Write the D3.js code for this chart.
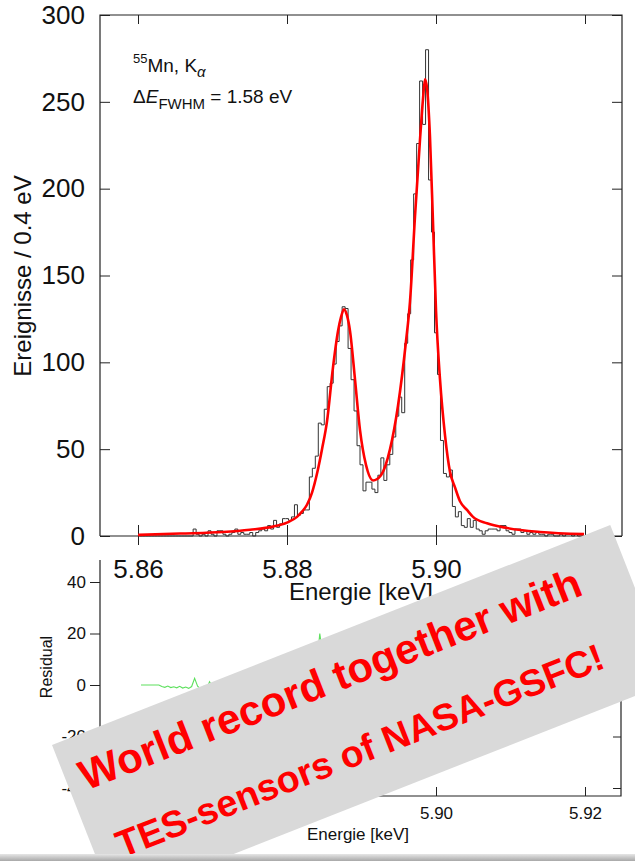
<!DOCTYPE html>
<html><head><meta charset="utf-8">
<script src="https://cdn.jsdelivr.net/npm/d3@7"></script>
<style>
body{margin:0;background:#fff;}
svg{display:block;}
text{font-family:"Liberation Sans",Arial,Helvetica,sans-serif;fill:#111;}
</style>
</head><body>
<svg id="c" width="635" height="861"></svg>
<script>
// ---------- data ----------
const binStart = 5.8602;   // keV, lower edge of first bin
const binWidth = 0.0004;   // keV (0.4 eV)
const counts = [
 0,0,0,0,0,0,0,0,0,0,0,0,0,0,0,0,0,0,
 4,1,0,1,0,3,1,0,3,3,1,0,1,2,4,1,2,1,1,2,0,2,3,4,3,6,4,9,5,7,10,10,9,11,18,12,13,15,15,
 34,39,46,65,64,73,86,88,99,112,121,132,131,108,90,72,52,41,26,31,31,27,25,35,45,32,41,47,57,69,80,71,
 111,128,159,197,226,262,237,280,205,175,117,93,55,36,34,38,17,11,14,6,5,10,5,9,4,3,1,3,4,4,4,3,6,6,
 3,2,1,4,4,2,3,1,2,1,2,1,1,0,1,1,0,0,1,0,1,1,0,1,0,0
];
const fitEnergy = [5.8600,5.86564,5.87141,5.87503,5.87812,5.88000,5.88134,5.88201,5.88268,5.88336,5.88403,5.88470,5.88537,5.88617,5.88685,5.88725,5.88765,5.88805,5.88846,5.88913,5.88980,5.89060,5.89154,5.89262,5.89383,5.89490,5.89597,5.89651,5.89718,5.89785,5.89826,5.89852,5.89879,5.89919,5.89960,5.90000,5.90054,5.90121,5.90188,5.90255,5.90322,5.90416,5.90497,5.90685,5.90953,5.91396,5.91987];
const fitCounts = [0.6,1.4,2.3,3.6,5.4,7.7,11,14,18,25,36,50,66,97,118,126,130.5,127,118,90,61,41,32,35,50,75,112,135,184,228,252,263,258,230,180,130,90,58,37,28,20,15,11,7.3,4.6,2.3,1.1];
const residual = [
 0,0,0,0,0,0,0,-0.6,-0.9,-0.4,-1.0,-0.7,-1.1,-0.5,-1.2,-0.8,-1.3,-0.6,
 2.6,-0.5,-1.5,-0.6,-1.6,1.3,-0.7,-1.8,1,1,-1,-2,-1.3,-0.4,1.5,-1.6,-0.8,-1.9,-2,-1.2,-3.4,-1.6,-0.8,0,-1.4,1.2,-1.2,3.4,-1.1,0.3,2.7,1.9,0,1,6.5,-1,-2,-2,-5,
 9,8,8,20,12,11,12,1,-1,-1,-2,2,3,-9,-10,-8,-10,-8,-14,-4,-1,-5,-8,0,5,-12,-8,-8,-5,-3,-4,-20,
 -7,-12,-9,-3,-2,12,-25,22,-23,-5,-8,5,-7,-9,-2,9,-7,-9,-4,-10,-9,-3,-7,-2,-6,-6,-7.5,-5,-3.5,-3,-2.5,-3,0.5,1,
 -1.8,-2.5,-3.2,0,0.2,-1.6,-0.4,-2.2,-1,-1.9,-0.7,-1.6,-1.4,-2.3,-1.2,-1.1,-2,-1.9,-0.8,-1.7,-0.6,-0.5,-1.4,-0.3,-1.2,-1.1
];
const xTicks = [5.86, 5.88, 5.90, 5.92];
const yTicks = [0, 50, 100, 150, 200, 250, 300];
const rTicks = [-40, -20, 0, 20, 40];
const bannerLines = ["World record together with", "TES-sensors of NASA-GSFC!"];

// ---------- setup ----------
const svg = d3.select("#c");
const x = d3.scaleLinear().domain([5.86, 5.92]).range([138, 585]);
const y = d3.scaleLinear().domain([0, 300]).range([536, 15]);
const yr = d3.scaleLinear().domain([-40, 40]).range([788, 582]);
const fmtX = d3.format(".2f");
const M = {l:100, r:622, t:15, b:536};

function clean(g){ g.select(".domain").remove(); g.selectAll(".tick line").attr("stroke","#222"); }

// ---------- residual panel ----------
const R = svg.append("g");
R.append("path").attr("d", `M100,560V796H621V560`).attr("fill","none").attr("stroke","#222").attr("stroke-width",1.2);
R.append("g").attr("transform","translate(100,0)")
 .call(d3.axisLeft(yr).tickValues(rTicks).tickSize(10).tickPadding(4).tickFormat(d=>String(d)))
 .call(clean).selectAll("text").attr("font-size",17).attr("fill","#111");
R.append("g").attr("transform","translate(621,0)")
 .call(d3.axisRight(yr).tickValues(rTicks).tickSize(-8).tickFormat(""))
 .call(clean);
R.append("g").attr("transform","translate(0,796)")
 .call(d3.axisBottom(x).tickValues(xTicks).tickSize(-9).tickPadding(11).tickFormat(fmtX))
 .call(clean).selectAll("text").attr("font-size",17).attr("fill","#111");
R.append("text").attr("x",358).attr("y",840).attr("text-anchor","middle").attr("font-size",17).text("Energie [keV]");
R.append("text").attr("transform","translate(52,667) rotate(-90)").attr("text-anchor","middle").attr("font-size",16).text("Residual");
const rline = d3.line().x((d,i)=>x(binStart + binWidth*(i+0.5))).y(d=>yr(d));
R.append("path").datum(residual).attr("d", rline).attr("fill","none").attr("stroke","#5ee05e").attr("stroke-width",1.1);

// ---------- main panel ----------
const G = svg.append("g");
G.append("path").attr("d", `M${M.l},${M.b}V${M.t}H${M.r}V${M.b}`).attr("fill","none").attr("stroke","#222").attr("stroke-width",1.2);
G.append("line").attr("x1",M.l).attr("x2",M.r).attr("y1",M.b).attr("y2",M.b).attr("stroke","#222").attr("stroke-width",1.2);
G.append("g").attr("transform",`translate(${M.l},0)`)
 .call(d3.axisLeft(y).tickValues(yTicks).tickSize(-10).tickPadding(15))
 .call(clean).selectAll("text").attr("font-size",26).attr("fill","#111");
G.append("g").attr("transform",`translate(${M.r},0)`)
 .call(d3.axisRight(y).tickValues(yTicks).tickSize(-10).tickFormat(""))
 .call(clean);
G.append("g").attr("transform",`translate(0,${M.t})`)
 .call(d3.axisTop(x).tickValues(xTicks).tickSize(-9).tickFormat(""))
 .call(clean);
G.append("g").attr("transform",`translate(0,${M.b})`)
 .call(d3.axisTop(x).tickValues(xTicks).tickSize(11).tickFormat(""))
 .call(clean);
G.append("g").attr("transform",`translate(0,${M.b})`)
 .call(d3.axisBottom(x).tickValues([5.86,5.88,5.90]).tickSize(9).tickPadding(15).tickFormat(fmtX))
 .call(clean).selectAll("text").attr("font-size",26).attr("fill","#111");
G.append("g").attr("transform",`translate(0,${M.b})`)
 .call(d3.axisBottom(x).tickValues([5.92]).tickSize(9).tickFormat(""))
 .call(clean);
G.append("text").attr("x",361).attr("y",600).attr("text-anchor","middle").attr("font-size",24).text("Energie [keV]");
G.append("text").attr("transform","translate(31,276) rotate(-90)").attr("text-anchor","middle").attr("font-size",24).text("Ereignisse / 0.4 eV");

// histogram
const steps = counts.map((c,i)=>[binStart + binWidth*i, c]);
steps.push([binStart + binWidth*counts.length, counts[counts.length-1]]);
G.append("path").datum(steps)
 .attr("d", d3.line().x(d=>x(d[0])).y(d=>y(d[1])).curve(d3.curveStepAfter))
 .attr("fill","none").attr("stroke","#333").attr("stroke-width",1);
// fit
const fitPts = fitEnergy.map((e,i)=>[e, fitCounts[i]]);
G.append("path").datum(fitPts)
 .attr("d", d3.line().x(d=>x(d[0])).y(d=>y(d[1])).curve(d3.curveMonotoneX))
 .attr("fill","none").attr("stroke","#ff0000").attr("stroke-width",2.6);

// annotation
const a1 = G.append("text").attr("x",133).attr("y",72).attr("font-size",19);
a1.append("tspan").attr("font-size",13).attr("dy",-9).text("55");
a1.append("tspan").attr("dy",9).text("Mn, K");
a1.append("tspan").attr("font-size",15).attr("font-style","italic").attr("dy",5).text("α");
const a2 = G.append("text").attr("x",133).attr("y",103).attr("font-size",19);
a2.append("tspan").text("Δ");
a2.append("tspan").attr("font-style","italic").text("E");
a2.append("tspan").attr("font-size",15).attr("dy",6).text("FWHM");
a2.append("tspan").attr("dy",-6).text(" = 1.58 eV");

// ---------- banner ----------
const B = svg.append("g").attr("transform","translate(52,745) rotate(-21.5)");
B.append("rect").attr("x",0).attr("y",0).attr("width",600).attr("height",168).attr("fill","#d9d9d9");
const targets = [[15,55,536],[24,131,521]];
bannerLines.forEach((t,i)=>{
  const tx = B.append("text").attr("x",targets[i][0]).attr("y",targets[i][1])
    .attr("font-family","Lato, 'Open Sans', sans-serif").attr("font-weight",700)
    .attr("font-size",40).attr("fill","#ff0000").style("fill","#ff0000").text(t);
  const w = tx.node().getComputedTextLength();
  tx.attr("font-size", 40*targets[i][2]/w);
});

// bottom shadow strip
const grad = svg.append("defs").append("linearGradient").attr("id","sh").attr("x1",0).attr("x2",0).attr("y1",0).attr("y2",1);
grad.append("stop").attr("offset","0%").attr("stop-color","#e6e6e6");
grad.append("stop").attr("offset","100%").attr("stop-color","#a8a8a8");
svg.append("rect").attr("x",0).attr("y",854).attr("width",635).attr("height",7).attr("fill","url(#sh)");
</script>
</body></html>
